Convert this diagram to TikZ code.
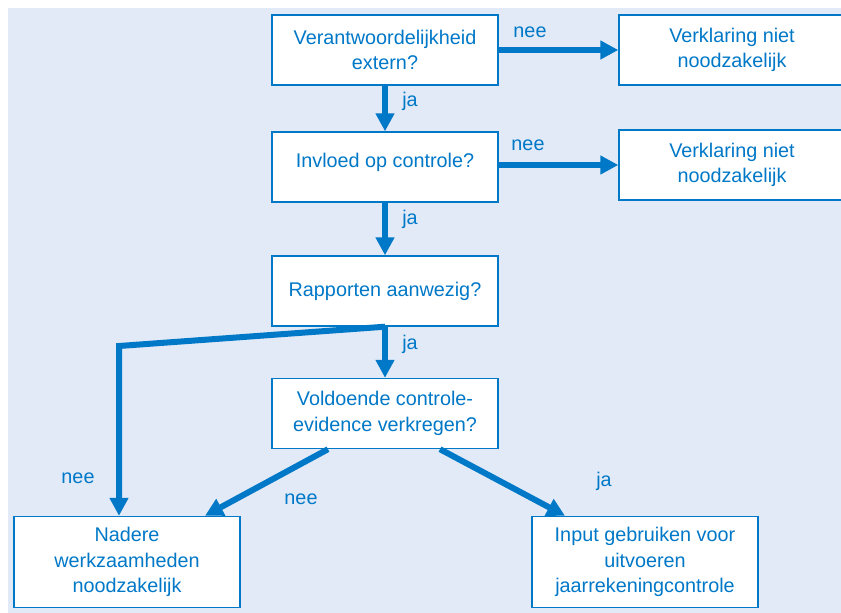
\documentclass[tikz,border=0pt]{standalone}
\usepackage{fontspec}
\setmainfont{Liberation Sans}
\usetikzlibrary{arrows.meta}
\definecolor{flow}{RGB}{0,120,200}
\definecolor{paper}{RGB}{226,234,247}

\begin{document}
\begin{tikzpicture}
[x=1pt, y=-1pt,
 box/.style={rectangle, draw=flow, fill=white, line width=1.4pt, text=flow, align=center, minimum width=226pt, minimum height=70pt, font=\fontsize{19.8}{25.5}\selectfont},
 lab/.style={text=flow, inner sep=0pt, font=\fontsize{19.8}{25.5}\selectfont},
 ->/.style={draw=flow, line width=6pt, arrows={-Triangle[width=18pt, length=18pt]}}]
\useasboundingbox (0,0) rectangle (841,613);
\fill[paper] (8,8) rectangle (841,613);
\node[box] (q1) at (385, 50) {Verantwoordelijkheid\\extern?};
\node[box, text depth=14pt] (q2) at (385, 167) {Invloed op controle?};
\node[box] (q3) at (385, 291) {Rapporten aanwezig?};
\node[box] (q4) at (385, 413.5) {Voldoende controle-\\evidence verkregen?};
\node[box] (r1) at (732, 50) {Verklaring niet\\noodzakelijk};
\node[box] (r2) at (732, 165) {Verklaring niet\\noodzakelijk};
\node[box, minimum height=91pt] (e1) at (127, 562) {Nadere\\werkzaamheden\\noodzakelijk};
\node[box, minimum height=91pt] (e2) at (645, 562) {Input gebruiken voor\\uitvoeren\\jaarrekeningcontrole};
\coordinate (knee) at (119, 346);
\node[lab] (n1) at (530, 32) {nee};
\node[lab] (n2) at (528, 145) {nee};
\node[lab] (j1) at (410, 101) {ja};
\node[lab] (j2) at (410, 219) {ja};
\node[lab] (j3) at (410, 344) {ja};
\node[lab] (n3) at (78, 478) {nee};
\node[lab] (n4) at (301, 499) {nee};
\node[lab] (j4) at (604, 481) {ja};
\draw[->] (q1) to (r1);
\draw[->] (q2.east |- r2.west) to (r2.west);
\draw[->] (q1) to (q2);
\draw[->] (q2) to (q3);
\draw[->] (q3) to (q4);
\draw[->] (q3.south) -- (knee) -- (knee |- e1.north);
\draw[->] ([xshift=-57pt]q4.south) -- ([xshift=78pt]e1.north);
\draw[->] ([xshift=55pt]q4.south) -- ([xshift=-80pt]e2.north);
\end{tikzpicture}
\end{document}
